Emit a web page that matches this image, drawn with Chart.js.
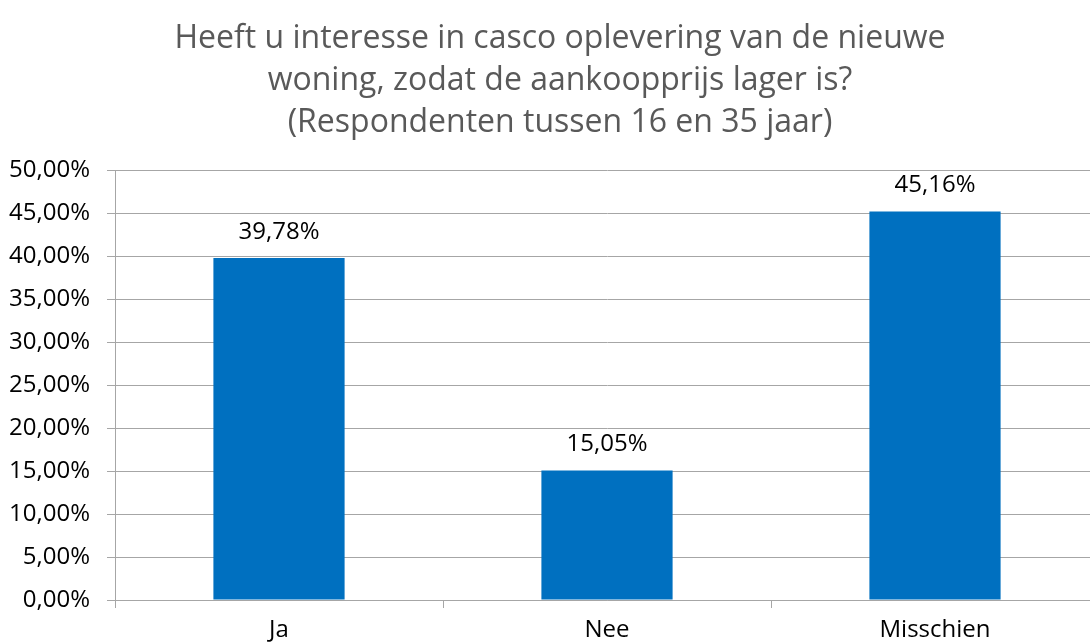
<!DOCTYPE html>
<html><head><meta charset="utf-8">
<script src="https://cdn.jsdelivr.net/npm/chart.js@4/dist/chart.umd.min.js"></script>
<style>html,body{margin:0;padding:0;background:#fff;overflow:hidden;width:1090px;height:643px}#wrap{width:1100px;height:643px;position:relative}</style>
</head><body><div id="wrap"><canvas id="c"></canvas></div>
<script>
const titleLines = ["Heeft u interesse in casco oplevering van de nieuwe","woning, zodat de aankoopprijs lager is?","(Respondenten tussen 16 en 35 jaar)"];
const categories = ["Ja","Nee","Misschien"];
const values = [39.78,15.05,45.16];
const yMin = 0, yMax = 50, yStep = 5;
const fmt = v => v.toFixed(2).replace('.', ',') + '%';
const FONT = "'Open Sans', sans-serif";

const titlePlugin = {
  id: 'tp',
  afterDraw(chart){
    const ctx = chart.ctx; ctx.save();
    ctx.font = "32px " + FONT; ctx.fillStyle = '#595959';
    ctx.textAlign = 'center'; ctx.textBaseline = 'middle';
    titleLines.forEach((t,i)=>ctx.fillText(t, 560, 39 + i*42));
    ctx.restore();
  }
};
const labelPlugin = {
  id: 'lp',
  afterDatasetsDraw(chart){
    const ctx = chart.ctx; ctx.save();
    ctx.font = "24px " + FONT; ctx.fillStyle = '#000';
    ctx.textAlign = 'center'; ctx.textBaseline = 'middle';
    chart.getDatasetMeta(0).data.forEach((b,i)=>ctx.fillText(fmt(values[i]), b.x, b.y - 26));
    ctx.restore();
  }
};
new Chart(document.getElementById('c'), {
  type: 'bar',
  data: { labels: categories, datasets: [{ data: values, backgroundColor: '#0070C0', barPercentage: 0.4, categoryPercentage: 1.0 }] },
  options: {
    responsive: true, maintainAspectRatio: false, animation: false,
    layout: { padding: { top: 170, right: 1, left: 0, bottom: 0 } },
    plugins: { legend: { display: false }, tooltip: { enabled: false }, title: { display: false } },
    scales: {
      x: {
        grid: { display: true, offset: true, drawOnChartArea: false, color: '#a6a6a6', tickLength: 8 },
        border: { color: '#a6a6a6' },
        ticks: { color: '#000', font: { family: FONT, size: 24 }, padding: 8 },
        afterFit(s){ s.height = 43; }
      },
      y: {
        min: yMin, max: yMax,
        grid: { color: '#a6a6a6', tickLength: 8 },
        border: { color: '#a6a6a6' },
        ticks: { stepSize: yStep, color: '#000', font: { family: FONT, size: 24 }, padding: 17, callback: v => fmt(v) },
        afterFit(s){ s.width = 115; }
      }
    }
  },
  plugins: [titlePlugin, labelPlugin]
});
</script></body></html>
